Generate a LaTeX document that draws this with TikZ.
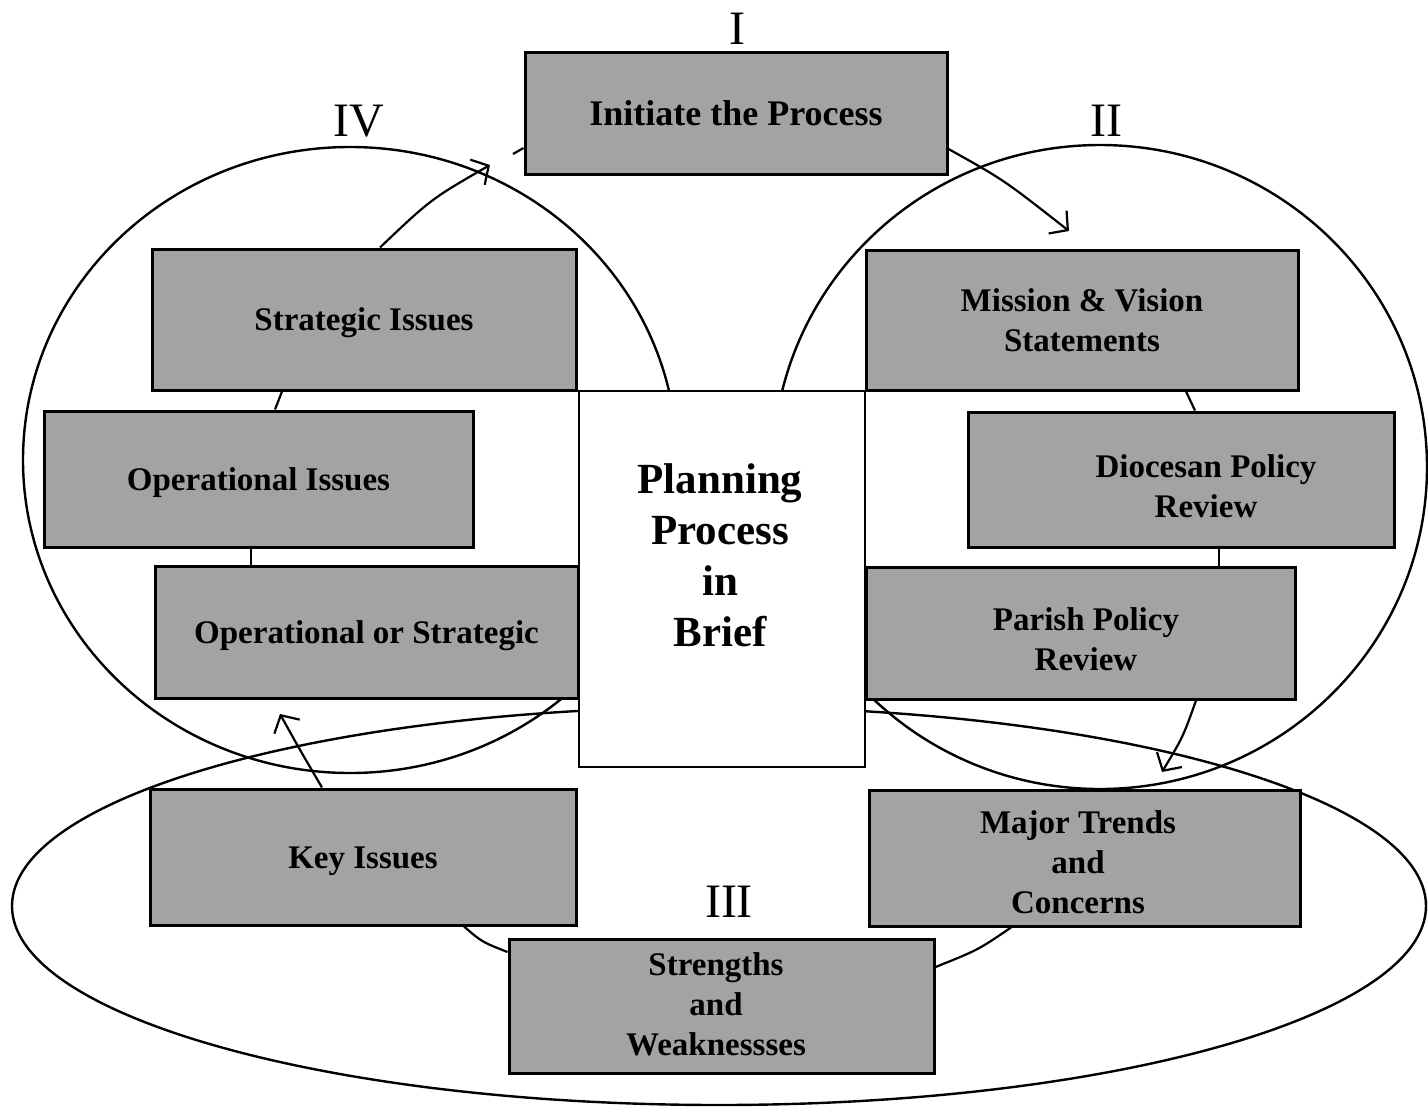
\documentclass[tikz,border=0pt]{standalone}
\usepackage{fontspec}
\setmainfont{Liberation Serif}
\usetikzlibrary{arrows.meta,calc}
\tikzset{
  ring/.style={line width=2.4pt},
  link/.style={line width=2.2pt},
  arr/.style={line width=2.2pt,-{Straight Barb[length=13pt,width=29pt,line width=2.2pt]}},
  gbox/.style={draw=black,line width=3pt,fill=black!36,inner sep=0pt,
    font=\bfseries\fontsize{33}{40}\selectfont,align=center},
  oneline/.style={text height=22pt,text depth=0pt},
  btext/.style={font=\bfseries\fontsize{33}{40}\selectfont,align=center,inner sep=0pt},
  numeral/.style={font=\fontsize{48}{48}\selectfont,inner sep=0pt}
}
\begin{document}
\begin{tikzpicture}[x=1pt,y=-1pt]
\useasboundingbox (0,0) rectangle (1428,1109);
% the three rings
\draw[ring] (350,460) ellipse [x radius=327pt, y radius=313pt];
\draw[ring] (1100,467) ellipse [x radius=327pt, y radius=322pt];
\draw[ring] (719,906) ellipse [x radius=707pt, y radius=199pt];
% boxes
\node[gbox,minimum width=422pt,minimum height=122pt,font=\bfseries\fontsize{36}{42}\selectfont] (init) at (736,113) {Initiate the Process};
\node[gbox,oneline,minimum width=424pt,minimum height=141pt] (strat) at (364,319.5) {Strategic Issues};
\node[gbox,oneline,minimum width=429pt,minimum height=136pt] (opiss) at (258.5,479) {Operational Issues};
\node[gbox,oneline,minimum width=423pt,minimum height=132pt] (opstr) at (366.5,632) {Operational or Strategic};
\node[draw=black,line width=2.2pt,fill=white,minimum width=286pt,minimum height=376pt,inner sep=0pt] (center) at (722,579) {};
\node[font=\bfseries\fontsize{43}{51}\selectfont,align=center,inner sep=0pt] (centert) at (720,555) {Planning\\Process\\in\\Brief};
\node[gbox,minimum width=432pt,minimum height=140pt] (mission) at (1082,320) {Mission \& Vision\\Statements};
\node[gbox,minimum width=426pt,minimum height=135pt] (dioc) at (1181,479.5) {};
\node[btext] (dioct) at (1206,486) {Diocesan Policy\\Review};
\node[gbox,minimum width=429pt,minimum height=132pt] (parish) at (1080.5,633) {};
\node[btext] (parisht) at (1086,639) {Parish Policy\\Review};
\node[gbox,oneline,minimum width=426pt,minimum height=136pt] (key) at (363,857) {Key Issues};
\node[gbox,minimum width=431pt,minimum height=136pt] (major) at (1084.5,858) {};
\node[btext] (majort) at (1078,862) {Major Trends\\and\\Concerns};
\node[gbox,minimum width=425pt,minimum height=134pt] (streng) at (721.5,1006) {};
\node[btext] (strengt) at (716,1004) {Strengths\\and\\Weaknessses};
% numerals
\node[numeral] (nI) at (737,29) {I};
\node[numeral] (nII) at (1106,121) {II};
\node[numeral] (nIII) at (729,902) {III};
\node[numeral] (nIV) at (359,121) {IV};
% short links between boxes
\draw[link] (strat.south -| 282,0) -- (opiss.north -| 275,0);
\draw[link] (opiss.south -| 251,0) -- (opstr.north -| 251,0);
\draw[link] (mission.south -| 1186,0) -- (dioc.north -| 1195,0);
\draw[link] (dioc.south -| 1219,0) -- (parish.north -| 1219,0);
\draw[link] (key.south -| 464,0) .. controls (482,942) .. (streng.west |- 0,952);
\draw[link] (streng.east |- 0,967) .. controls (978,950) .. (major.south -| 1011,0);
% arrows
\coordinate (tipIV) at (490,165);
\coordinate (tipII) at (1069,231);
\coordinate (tipIII) at (1162,772);
\coordinate (tipI) at (280,714);
\coordinate (stub) at (513,154);
\draw[arr] (strat.north -| 380,0) .. controls (431,199) .. (tipIV);
\draw[link] (stub) -- (init.west |- 0,148);
\draw[arr] (init.east |- 0,149) .. controls (1004,180) .. (tipII);
\draw[arr] (parish.south -| 1196,0) .. controls (1183,737) .. (tipIII);
\draw[arr] (key.north -| 322,0) .. controls (300,750) .. (tipI);
\end{tikzpicture}
\end{document}
